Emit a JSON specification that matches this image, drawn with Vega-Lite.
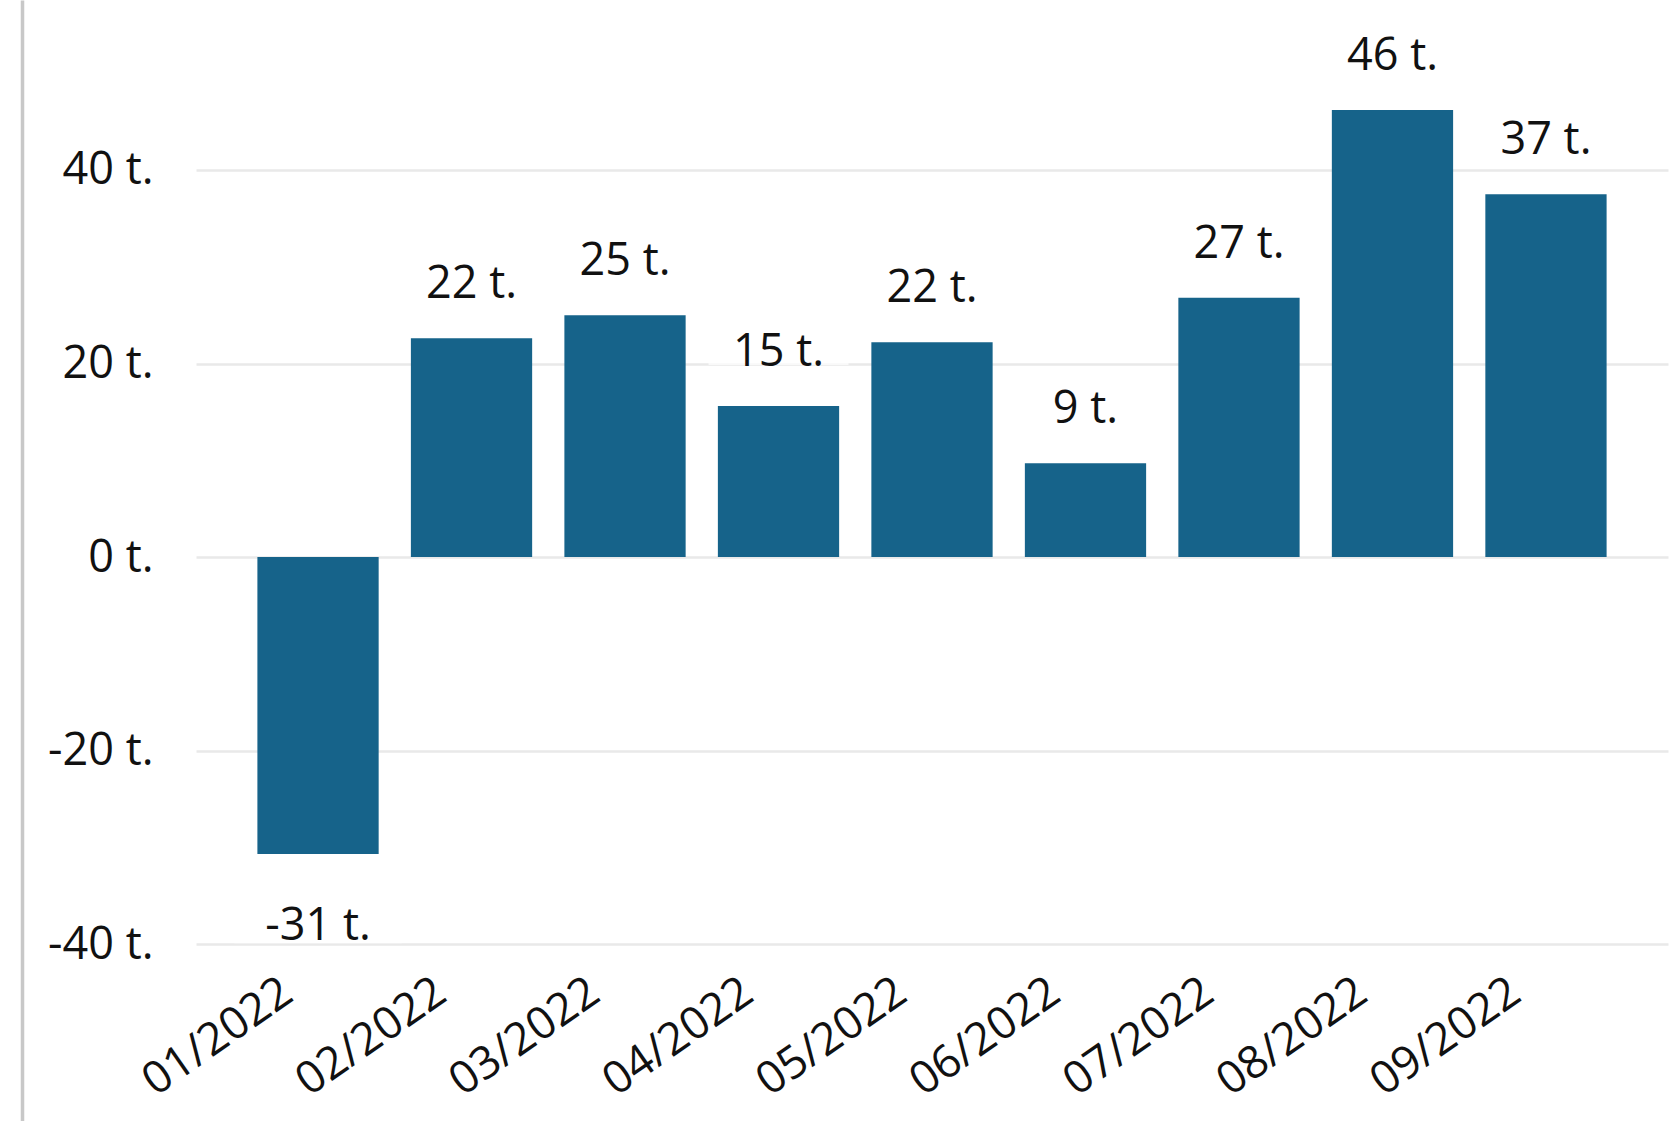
{
  "$schema": "https://vega.github.io/schema/vega-lite/v6.json",
  "width": 1472,
  "height": 1121,
  "autosize": {"type": "none"},
  "padding": {"left": 196, "top": 0, "right": 7, "bottom": 0},
  "background": "#ffffff",
  "view": {"stroke": null},
  "config": {
    "font": "Open Sans",
    "axis": {"labelFont": "Open Sans", "labelColor": "#111111", "labelFontSize": 45}
  },
  "data": {
    "values": [
      {"month": "01/2022", "value": -30.7, "label": "-31 t."},
      {"month": "02/2022", "value": 22.6, "label": "22 t."},
      {"month": "03/2022", "value": 25.0, "label": "25 t."},
      {"month": "04/2022", "value": 15.6, "label": "15 t."},
      {"month": "05/2022", "value": 22.2, "label": "22 t."},
      {"month": "06/2022", "value": 9.7, "label": "9 t."},
      {"month": "07/2022", "value": 26.8, "label": "27 t."},
      {"month": "08/2022", "value": 46.2, "label": "46 t."},
      {"month": "09/2022", "value": 37.5, "label": "37 t."}
    ]
  },
  "encoding": {
    "x": {
      "field": "month",
      "type": "ordinal",
      "sort": null,
      "scale": {"paddingInner": 0.21, "paddingOuter": 0.4},
      "axis": {
        "title": null,
        "orient": "bottom",
        "offset": -177,
        "domain": false,
        "ticks": false,
        "grid": false,
        "labelAngle": -35,
        "labelPadding": 25,
        "labelOffset": -43,
        "labelFontSize": 45
      }
    },
    "y": {
      "field": "value",
      "type": "quantitative",
      "scale": {"domain": [-58.29, 57.57], "nice": false, "zero": false},
      "axis": {
        "title": null,
        "values": [-40, -20, 0, 20, 40],
        "labelExpr": "datum.value + ' t.'",
        "offset": 174,
        "domain": true,
        "domainColor": "#c8c8c8",
        "domainWidth": 3.5,
        "ticks": false,
        "grid": true,
        "gridColor": "#e9e9e9",
        "gridWidth": 2.5,
        "labelPadding": -131,
        "labelFontSize": 45,
        "labelBaseline": "middle"
      }
    }
  },
  "layer": [
    {"mark": {"type": "bar", "color": "#16638a"}},
    {
      "transform": [{"filter": "datum.value >= 0"}],
      "mark": {"type": "point", "shape": "M-1,-0.3H1V0.3H-1Z", "size": 19600, "filled": true, "color": "#ffffff", "opacity": 0.7, "strokeWidth": 0, "yOffset": -62}
    },
    {
      "transform": [{"filter": "datum.value < 0"}],
      "mark": {"type": "point", "shape": "M-1,-0.3H1V0.3H-1Z", "size": 28000, "filled": true, "color": "#ffffff", "opacity": 0.7, "strokeWidth": 0, "yOffset": 64}
    },
    {
      "transform": [{"filter": "datum.value >= 0"}],
      "mark": {"type": "text", "baseline": "alphabetic", "align": "center", "dy": -40, "fontSize": 45, "color": "#111111"},
      "encoding": {"text": {"field": "label"}}
    },
    {
      "transform": [{"filter": "datum.value < 0"}],
      "mark": {"type": "text", "baseline": "alphabetic", "align": "center", "dy": 86, "fontSize": 45, "color": "#111111"},
      "encoding": {"text": {"field": "label"}}
    }
  ]
}
